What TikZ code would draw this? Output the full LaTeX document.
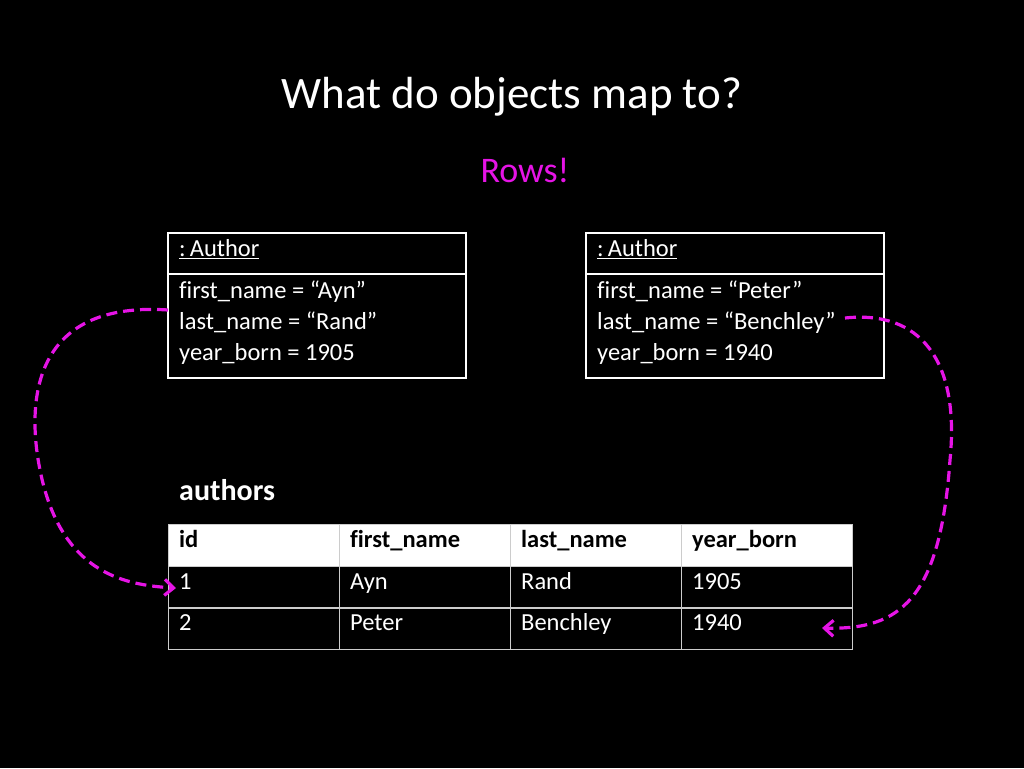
\documentclass[tikz,border=0pt]{standalone}
\usepackage{fontspec}
\setmainfont[Ligatures=NoCommon]{Carlito}
\usetikzlibrary{arrows.meta}
\definecolor{pink}{RGB}{230,20,230}
\begin{document}
\begin{tikzpicture}[x=1pt,y=-1pt,
  txt/.style={anchor=west,inner sep=0pt,text=white,text height=0.7em,text depth=0.2em,font=\fontsize{24.5}{28}\selectfont},
  cell/.style={draw=white!80!black,line width=1pt,minimum width=171pt,minimum height=41.5pt,anchor=north west},
  link/.style={pink,line width=3.2pt,dash pattern=on 11pt off 6pt,-{Straight Barb[length=9pt,width=16pt]}}]
        \fill[black] (0,0) rectangle (1024,768);
        \useasboundingbox (0,0) rectangle (1024,768);
        %Titel
        \node[text=white,font=\fontsize{45}{50}\selectfont] (title) at (512,97) {What do objects map to?};
        \node[text=pink,font=\fontsize{36}{40}\selectfont] (rows) at (525,170) {Rows!};
        %Objekte
        \foreach \x/\n/\fn/\ln/\yb in {168/a/Ayn/Rand/1905, 586/b/Peter/Benchley/1940}{
          \draw[white,line width=1.5pt] (\x,233) rectangle (\x+298,378) (\x,274)--(\x+298,274);
          \node[txt] (head\n) at (\x+11,254) {\underline{:\,Author}};
          \node[txt] (fn\n) at (\x+11,296) {first\_name = “\fn”};
          \node[txt] (ln\n) at (\x+11,327) {last\_name = “\ln”};
          \node[txt] (yb\n) at (\x+11,358) {year\_born = \yb};
        }
        %Tabelle
        \node[txt,font=\fontsize{30}{34}\selectfont\bfseries] (tname) at (179,498) {authors};
        \foreach \c/\x in {0/168,1/339,2/510,3/681}
          \node[cell,fill=white] (h\c) at (\x,524) {};
        \foreach \r/\y in {1/566,2/607}
          \foreach \c/\x in {0/168,1/339,2/510,3/681}
            \node[cell] (c\r\c) at (\x,\y) {};
        \foreach \c/\t in {0/id,1/first\_name,2/last\_name,3/year\_born}
          \node[txt,text=black,font=\fontsize{24.5}{28}\selectfont\bfseries] at ([xshift=11pt]h\c.west) {\t};
        \foreach \c/\t in {0/1,1/Ayn,2/Rand,3/1905}
          \node[txt] (t1\c) at ([xshift=11pt]c1\c.west) {\t};
        \foreach \c/\t in {0/2,1/Peter,2/Benchley,3/1940}
          \node[txt] (t2\c) at ([xshift=11pt]c2\c.west) {\t};
        %Pfeile
        \coordinate (sa) at (168,310);
        \coordinate (ea) at (176,588);
        \coordinate (sb) at (845,318);
        \coordinate (eb) at (822,628);
        \draw[link] (sa) .. controls (20,300) and (30,420) .. (40,470)
          .. controls (60,570) and (120,585) .. (ea);
        \draw[link] (sb) .. controls (920,310) and (960,360) .. (950,460)
          .. controls (940,600) and (900,630) .. (eb);
\end{tikzpicture}
\end{document}
